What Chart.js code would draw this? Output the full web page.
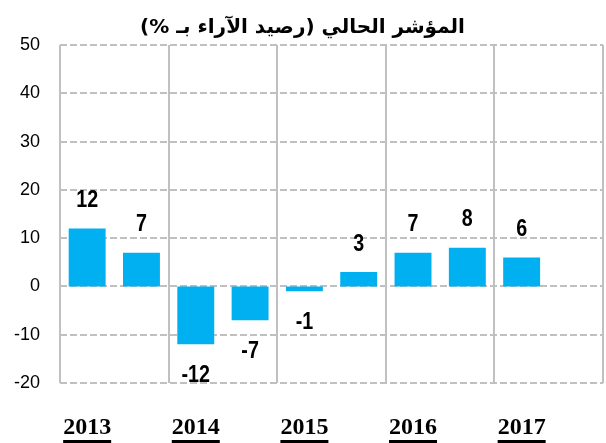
<!DOCTYPE html>
<html lang="ar">
<head>
  <meta charset="UTF-8">
  <title>المؤشر الحالي</title>
  <script src="https://cdn.jsdelivr.net/npm/chart.js@4.4.1/dist/chart.umd.min.js"></script>
  <style>
    body { margin: 0; background: #ffffff; }
    .chart-box { width: 606px; height: 443px; position: relative; }
  </style>
</head>
<body>
  <div class="chart-box">
    <canvas id="balanceChart"></canvas>
  </div>

  <script>
    // data
    const periods = ['2013', '2013', '2014', '2014', '2015', '2015', '2016', '2016', '2017', '2017'];
    const balance = [12, 7, -12, -7, -1, 3, 7, 8, 6, null];
    const yMin = -20;
    const yMax = 50;
    const yStep = 10;

    const barBlue = '#00B0F0';
    const gridGray = '#c0c0c0';

    // dashed horizontal grid lines, one per y tick
    const dashedGrid = {
      id: 'dashedGrid',
      beforeDatasetsDraw(chart) {
        const ctx = chart.ctx;
        const ys = chart.scales.y;
        const area = chart.chartArea;
        ctx.save();
        ctx.strokeStyle = gridGray;
        ctx.lineWidth = 2;
        ctx.setLineDash([7, 3]);
        ys.ticks.forEach(t => {
          const y = Math.round(ys.getPixelForValue(t.value));
          ctx.beginPath();
          ctx.moveTo(area.left, y);
          ctx.lineTo(area.right, y);
          ctx.stroke();
        });
        ctx.restore();
      }
    };

    // value labels above / below bars (slightly condensed bold font)
    const valueLabels = {
      id: 'valueLabels',
      afterDatasetsDraw(chart) {
        const ctx = chart.ctx;
        const meta = chart.getDatasetMeta(0);
        ctx.save();
        ctx.font = 'bold 24px "Liberation Sans", Arial, sans-serif';
        ctx.fillStyle = '#000';
        ctx.textAlign = 'center';
        ctx.textBaseline = 'middle';
        meta.data.forEach((bar, i) => {
          const v = balance[i];
          if (v === null) return;
          const y = v >= 0 ? bar.y - 28 : bar.y + 31;
          ctx.save();
          ctx.translate(bar.x, y);
          ctx.scale(0.82, 1);
          ctx.fillText(String(v), 0, 0);
          ctx.restore();
        });
        ctx.restore();
      }
    };

    // underline the year labels
    const yearUnderline = {
      id: 'yearUnderline',
      afterDraw(chart) {
        const ctx = chart.ctx;
        const xs = chart.scales.x;
        ctx.save();
        ctx.font = 'bold 24px "Liberation Serif", "Times New Roman", serif';
        ctx.fillStyle = '#000';
        xs.ticks.forEach((t, i) => {
          if (i % 2 !== 0) return;
          const w = ctx.measureText(periods[i]).width;
          const x = xs.getPixelForTick(i);
          ctx.fillRect(x - w / 2, 440, w, 3);
        });
        ctx.restore();
      }
    };

    new Chart(document.getElementById('balanceChart'), {
      type: 'bar',
      data: {
        labels: periods,
        datasets: [{
          data: balance,
          backgroundColor: barBlue,
          borderWidth: 0,
          barPercentage: 0.68,
          categoryPercentage: 1
        }]
      },
      options: {
        responsive: true,
        maintainAspectRatio: false,
        animation: false,
        layout: { padding: { left: 0, right: 1, top: 0, bottom: 0 } },
        plugins: {
          legend: { display: false },
          tooltip: { enabled: false },
          title: {
            display: true,
            text: 'المؤشر الحالي (رصيد الآراء بـ %)',
            color: '#000',
            font: { family: '"DejaVu Sans", sans-serif', size: 20, weight: 'bold' },
            padding: { top: 16, bottom: 5 }
          }
        },
        scales: {
          x: {
            afterFit: s => { s.height = 60; },
            border: { display: false },
            grid: {
              offset: true,
              drawTicks: false,
              lineWidth: 2,
              color: c => (c.index === undefined || c.index % 2 === 0) ? gridGray : 'rgba(0,0,0,0)'
            },
            ticks: {
              autoSkip: false,
              maxRotation: 0,
              padding: 30,
              color: '#000',
              font: { family: '"Liberation Serif", "Times New Roman", serif', size: 24, weight: 'bold' },
              callback: (v, i) => i % 2 === 0 ? periods[i] : ''
            }
          },
          y: {
            min: yMin,
            max: yMax,
            afterFit: s => { s.width = 60; },
            border: { display: false },
            grid: { display: false, drawTicks: false },
            ticks: {
              stepSize: yStep,
              padding: 20,
              color: '#000',
              font: { family: '"Liberation Sans", Arial, sans-serif', size: 18 }
            }
          }
        }
      },
      plugins: [dashedGrid, valueLabels, yearUnderline]
    });
  </script>
</body>
</html>
